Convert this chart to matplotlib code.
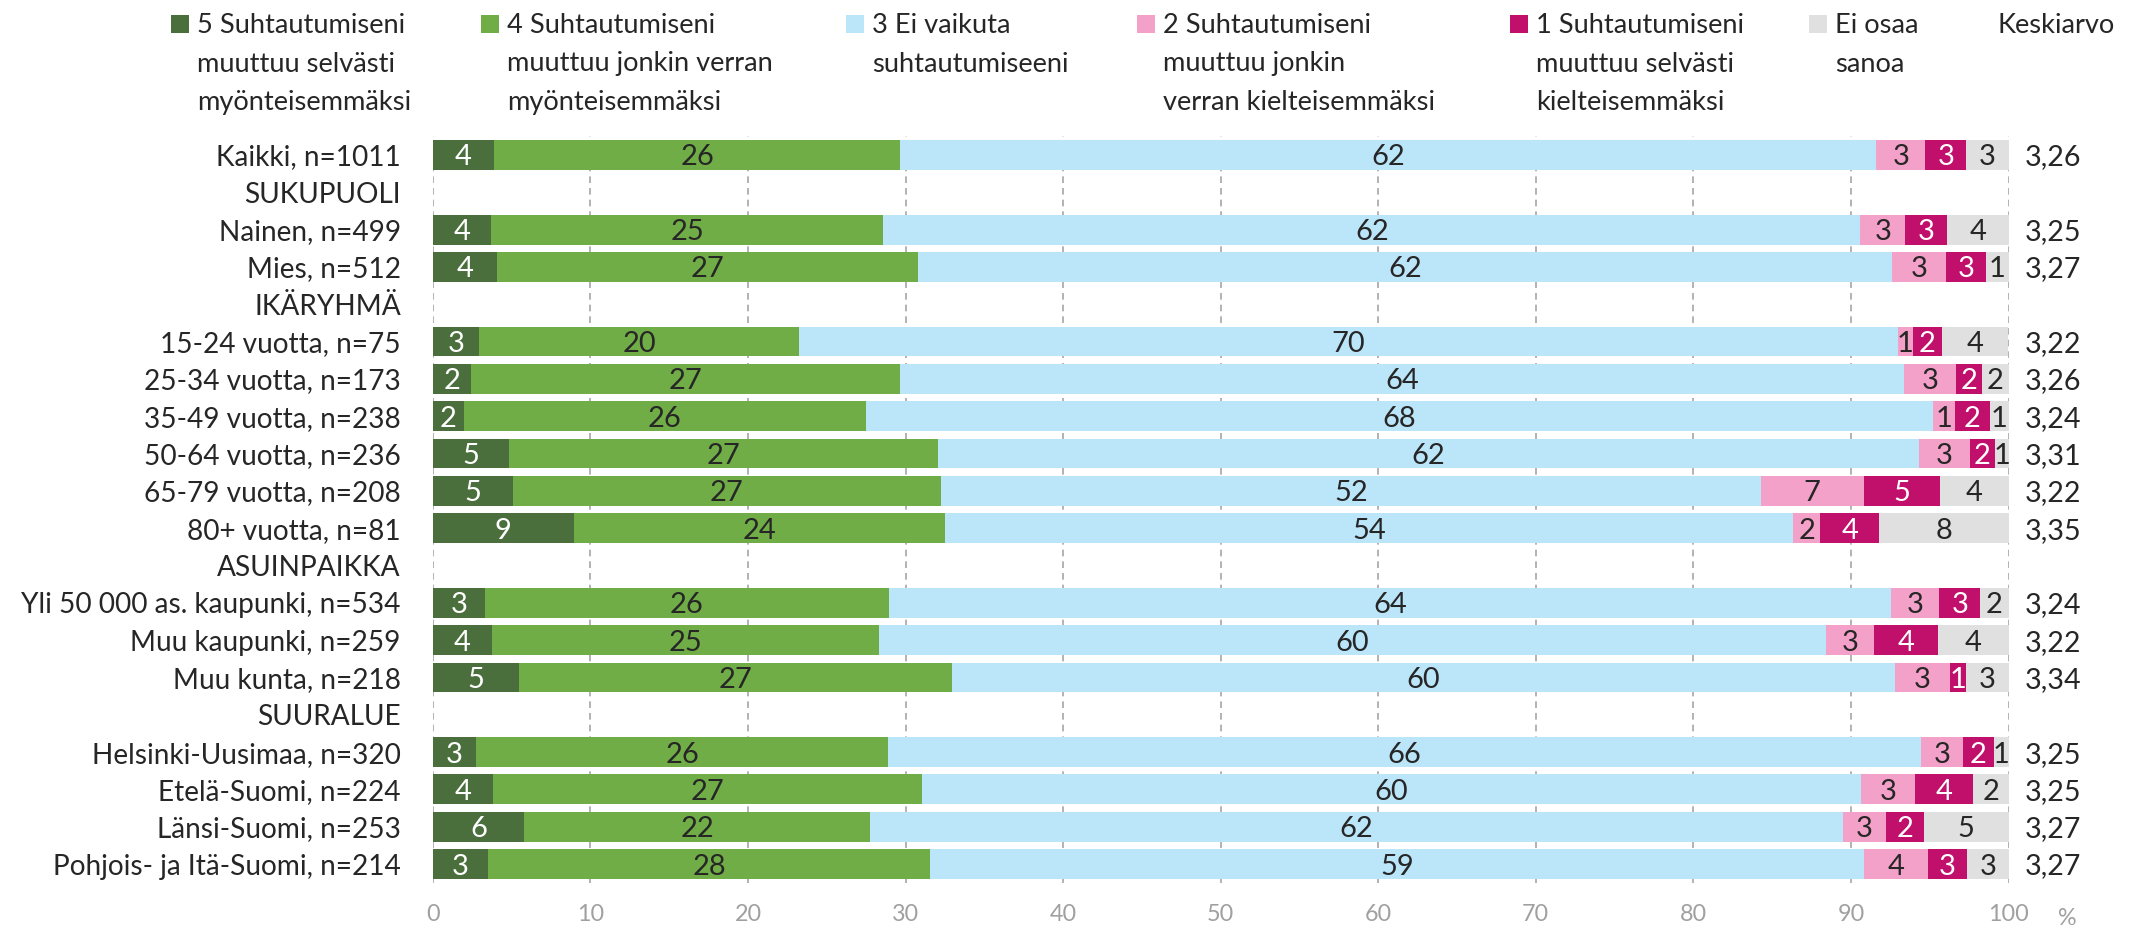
import numpy as np
import matplotlib
matplotlib.use("Agg")
import matplotlib.pyplot as plt
from matplotlib.patches import Rectangle
from matplotlib.textpath import TextPath
from matplotlib.font_manager import FontProperties

FAMILY = ['Lato', 'DejaVu Sans']
plt.rcParams['font.family'] = FAMILY

categories = ["Kaikki, n=1011", "SUKUPUOLI", "Nainen, n=499", "Mies, n=512", "IKÄRYHMÄ",
              "15-24 vuotta, n=75", "25-34 vuotta, n=173", "35-49 vuotta, n=238", "50-64 vuotta, n=236",
              "65-79 vuotta, n=208", "80+ vuotta, n=81", "ASUINPAIKKA", "Yli 50 000 as. kaupunki, n=534",
              "Muu kaupunki, n=259", "Muu kunta, n=218", "SUURALUE", "Helsinki-Uusimaa, n=320",
              "Etelä-Suomi, n=224", "Länsi-Suomi, n=253", "Pohjois- ja Itä-Suomi, n=214"]

N = np.nan
s5 = [3.88, N, 3.70, 4.10, N, 2.94, 2.41, 1.96, 4.86, 5.08, 8.95, N, 3.30, 3.74, 5.48, N, 2.76, 3.83, 5.79, 3.48]
s4 = [25.79, N, 24.90, 26.72, N, 20.31, 27.26, 25.52, 27.21, 27.17, 23.57, N, 25.65, 24.59, 27.48, N, 26.15, 27.22, 21.96, 28.10]
s3 = [61.93, N, 62.00, 61.81, N, 69.71, 63.67, 67.73, 62.25, 52.03, 53.83, N, 63.61, 60.09, 59.82, N, 65.54, 59.57, 61.74, 59.27]
s2 = [3.12, N, 2.85, 3.43, N, 1.00, 3.34, 1.38, 3.21, 6.52, 1.69, N, 3.05, 3.07, 3.48, N, 2.65, 3.46, 2.74, 4.01]
s1 = [2.61, N, 2.65, 2.52, N, 1.80, 1.65, 2.23, 1.60, 4.86, 3.76, N, 2.59, 4.01, 1.07, N, 1.99, 3.67, 2.40, 2.51]
s0 = [2.67, N, 3.90, 1.42, N, 4.23, 1.67, 1.18, 0.87, 4.34, 8.20, N, 1.80, 4.50, 2.67, N, 0.91, 2.25, 5.37, 2.63]

l5 = ["4", "", "4", "4", "", "3", "2", "2", "5", "5", "9", "", "3", "4", "5", "", "3", "4", "6", "3"]
l4 = ["26", "", "25", "27", "", "20", "27", "26", "27", "27", "24", "", "26", "25", "27", "", "26", "27", "22", "28"]
l3 = ["62", "", "62", "62", "", "70", "64", "68", "62", "52", "54", "", "64", "60", "60", "", "66", "60", "62", "59"]
l2 = ["3", "", "3", "3", "", "1", "3", "1", "3", "7", "2", "", "3", "3", "3", "", "3", "3", "3", "4"]
l1 = ["3", "", "3", "3", "", "2", "2", "2", "2", "5", "4", "", "3", "4", "1", "", "2", "4", "2", "3"]
l0 = ["3", "", "4", "1", "", "4", "2", "1", "1", "4", "8", "", "2", "4", "3", "", "1", "2", "5", "3"]

keskiarvo = ["3,26", "", "3,25", "3,27", "", "3,22", "3,26", "3,24", "3,31", "3,22", "3,35", "",
             "3,24", "3,22", "3,34", "", "3,25", "3,25", "3,27", "3,27"]

series_names = ["5 Suhtautumiseni\nmuuttuu selvästi\nmyönteisemmäksi",
                "4 Suhtautumiseni\nmuuttuu jonkin verran\nmyönteisemmäksi",
                "3 Ei vaikuta\nsuhtautumiseeni",
                "2 Suhtautumiseni\nmuuttuu jonkin\nverran kielteisemmäksi",
                "1 Suhtautumiseni\nmuuttuu selvästi\nkielteisemmäksi",
                "Ei osaa\nsanoa"]
keskiarvo_title = "Keskiarvo"
xticks = [0, 10, 20, 30, 40, 50, 60, 70, 80, 90, 100]

colors = ["#4a6f3d", "#70ad47", "#bbe5f9", "#f4a1c9", "#c0106c", "#e0e0e0"]
label_colors = ["white", "#262626", "#262626", "#262626", "white", "#262626"]
text_col = "#262626"
grey_txt = "#a0a0a0"

DPI = 100
W, H = 2151, 930


def fit_size(s, target_px):
    w = TextPath((0, 0), s, size=100, prop=FontProperties(family=FAMILY)).get_extents().width
    return target_px / (w / 100 * DPI / 72)


FS_LAB = fit_size("Kaikki, n=1011", 180)
FS_LEG = fit_size("5 Suhtautumiseni", 205)
FS_VAL = fit_size("26", 31)
FS_TICK = fit_size("100", 38)
FS_AVG = fit_size("3,27", 54)

fig = plt.figure(figsize=(W / DPI, H / DPI), dpi=DPI)
ax = fig.add_axes([432.8 / W, 1 - 882.7 / H, (2008.5 - 432.8) / W, (882.7 - 136.3) / H])

n = len(categories)
y = np.arange(n)
all_series = [s5, s4, s3, s2, s1, s0]
all_labels = [l5, l4, l3, l2, l1, l0]
left = np.zeros(n)
for vals, labs, col, lc in zip(all_series, all_labels, colors, label_colors):
    v = np.array(vals, dtype=float)
    ax.barh(y, np.nan_to_num(v), left=left, height=0.80, color=col, zorder=3, linewidth=0)
    for i in range(n):
        if labs[i]:
            ax.text(left[i] + v[i] / 2, y[i], labs[i], ha='center', va='center_baseline',
                    color=lc, fontsize=FS_VAL, zorder=4)
    left = left + np.nan_to_num(v)

for i, k in enumerate(keskiarvo):
    if k:
        ax.text(101.05, y[i], k, ha='left', va='center_baseline', fontsize=FS_AVG,
                color=text_col, clip_on=False)

ax.set_xlim(0, 100)
ax.set_ylim(n - 0.5, -0.5)
ax.set_yticks(y)
ax.set_yticklabels(categories, fontsize=FS_LAB, color=text_col, va='center_baseline')
ax.set_xticks(xticks)
ax.set_xticklabels([str(t) for t in xticks], fontsize=FS_TICK, color=grey_txt)
ax.tick_params(axis='both', length=0)
ax.tick_params(axis='y', pad=23)
ax.tick_params(axis='x', pad=15)
for sp in ax.spines.values():
    sp.set_visible(False)
ax.grid(axis='x', color="#a6a6a6", linestyle=(0, (4, 3)), linewidth=1.2, zorder=0)
ax.set_axisbelow(True)

fig.text(2058 / W, 1 - 916 / H, "%", ha='left', va='center_baseline', fontsize=FS_TICK, color=grey_txt)

# legend
patch_x = [171, 481, 846, 1137, 1510, 1809]
line_base = [33, 71.5, 110]
for px, name, col in zip(patch_x, series_names, colors):
    fig.add_artist(Rectangle((px / W, 1 - 33 / H), 18 / W, 18 / H, transform=fig.transFigure,
                             color=col, linewidth=0))
    for j, line in enumerate(name.split("\n")):
        fig.text((px + 26) / W, 1 - line_base[j] / H, line, ha='left', va='baseline',
                 fontsize=FS_LEG, color=text_col)
fig.text(1998 / W, 1 - line_base[0] / H, keskiarvo_title, ha='left', va='baseline',
         fontsize=FS_LEG, color=text_col)

fig.savefig("out.png", dpi=DPI)
